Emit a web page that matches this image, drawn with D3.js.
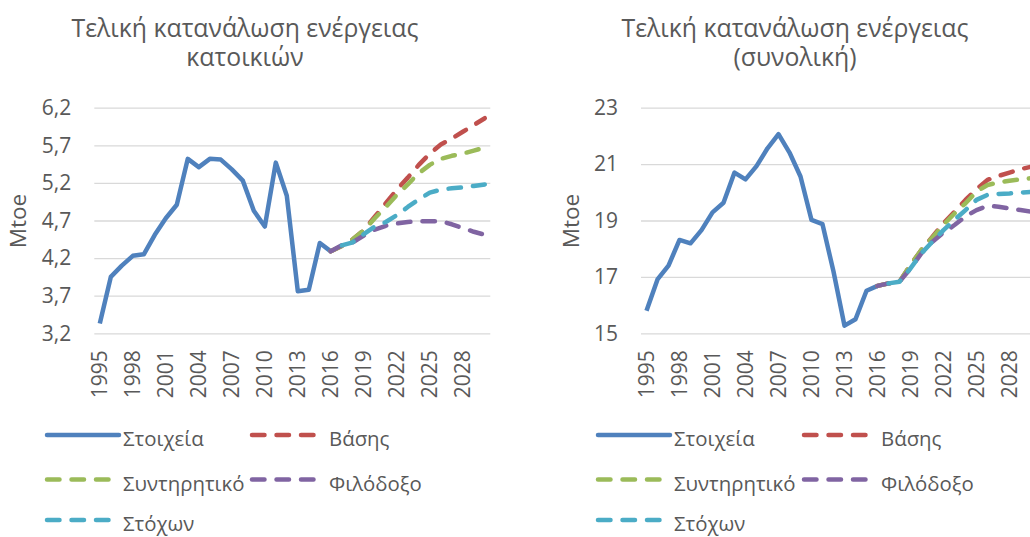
<!DOCTYPE html>
<html><head><meta charset="utf-8">
<script src="https://cdn.jsdelivr.net/npm/d3@7"></script>
<style>
html,body{margin:0;padding:0;background:#fff;overflow:hidden}
svg{display:block}
text{font-family:"Open Sans",sans-serif;fill:#595959}
</style></head>
<body>
<svg id="c" width="1030" height="537"></svg>
<script>
const years = [1995,1996,1997,1998,1999,2000,2001,2002,2003,2004,2005,2006,2007,2008,2009,2010,2011,2012,2013,2014,2015,2016,2017,2018,2019,2020,2021,2022,2023,2024,2025,2026,2027,2028,2029,2030];
const tickYears = [1995,1998,2001,2004,2007,2010,2013,2016,2019,2022,2025,2028];
const seriesNames = ["Στοιχεία","Βάσης","Συντηρητικό","Φιλόδοξο","Στόχων"];
const seriesColors = ["#4F81BD","#C0504D","#9BBB59","#8064A2","#4BACC6"];

// Left panel: households
const titleL = ["Τελική κατανάλωση ενέργειας","κατοικιών"];
const yTicksL = [3.2,3.7,4.2,4.7,5.2,5.7,6.2];
const histL = [3.33,3.95,4.10,4.23,4.25,4.51,4.73,4.91,5.52,5.41,5.52,5.51,5.38,5.23,4.83,4.62,5.47,5.03,3.76,3.78,4.40,4.29]; // 1995-2016
const baseL = [4.29,4.36,4.45,4.57,4.75,4.93,5.11,5.27,5.44,5.59,5.71,5.79,5.88,5.97,6.06]; // 2016-2030
const consL = [4.29,4.36,4.45,4.57,4.73,4.88,5.04,5.18,5.33,5.44,5.52,5.56,5.59,5.63,5.67]; // 2016-2030
const ambL  = [4.29,4.37,4.41,4.50,4.58,4.63,4.66,4.68,4.69,4.69,4.69,4.65,4.60,4.55,4.51]; // 2016-2030
const targL = [4.37,4.41,4.52,4.62,4.68,4.77,4.88,4.98,5.07,5.11,5.13,5.14,5.16,5.18]; // 2017-2030

// Right panel: total
const titleR = ["Τελική κατανάλωση ενέργειας","(συνολική)"];
const yTicksR = [15,17,19,21,23];
const histR = [15.80,16.91,17.40,18.31,18.19,18.66,19.29,19.63,20.70,20.46,20.93,21.56,22.06,21.41,20.56,19.02,18.87,17.19,15.27,15.50,16.51,16.68]; // 1995-2016
const baseR = [16.68,16.77,16.83,17.42,17.96,18.43,18.90,19.31,19.73,20.11,20.44,20.58,20.70,20.82,20.91]; // 2016-2030
const consR = [16.68,16.77,16.83,17.42,17.96,18.40,18.85,19.25,19.61,20.02,20.26,20.35,20.41,20.46,20.50]; // 2016-2030
const ambR  = [16.68,16.77,16.83,17.30,17.84,18.25,18.57,18.84,19.14,19.37,19.52,19.49,19.43,19.37,19.31]; // 2016-2030
const targR = [16.77,16.83,17.30,17.84,18.25,18.66,19.02,19.37,19.73,19.91,19.94,19.96,19.99,20.01]; // 2017-2030

const svg = d3.select("#c");

function panel(o){
  const g = svg.append("g");
  const x = d3.scaleBand().domain(years).range([o.x0, o.x0+396]);
  const cx = yr => x(yr) + x.bandwidth()/2;
  const y = d3.scaleLinear().domain(o.domain).range([333.3,107.7]);

  // title (one text, two lines)
  const t = g.append("text").attr("text-anchor","middle").style("font-size","24.8px");
  t.append("tspan").attr("x",o.tx).attr("y",36.5).text(o.title[0]);
  t.append("tspan").attr("x",o.tx).attr("y",66).text(o.title[1]);

  // grid
  const grid = g.append("g").attr("transform",`translate(${o.x0},0)`)
    .call(d3.axisLeft(y).tickValues(o.ticks).tickSize(-396).tickFormat(""));
  grid.select(".domain").remove();
  grid.selectAll("line").attr("stroke","#d9d9d9").attr("stroke-width",1.3);

  // y labels
  const ya = g.append("g").attr("transform",`translate(${o.x0-23},0)`)
    .call(d3.axisLeft(y).tickValues(o.ticks).tickSize(0).tickPadding(0)
      .tickFormat(d => d3.format(o.fmt)(d).replace(".",",")));
  ya.select(".domain").remove();
  ya.selectAll("text").attr("fill","#595959").style("font-size","21px")
    .style("font-family","'Open Sans',sans-serif");

  // x labels
  const xa = g.append("g").attr("transform","translate(0,333.3)")
    .call(d3.axisBottom(x).tickValues(tickYears).tickSize(0).tickPadding(0));
  xa.select(".domain").remove();
  xa.selectAll("text").attr("fill","#595959").style("font-size","21px")
    .style("font-family","'Open Sans',sans-serif")
    .attr("text-anchor","end").attr("transform","rotate(-90)")
    .attr("x",-17).attr("y",0).attr("dy","0.35em");

  // axis title
  g.append("text").attr("transform",`translate(${o.mx},221) rotate(-90)`)
    .attr("text-anchor","middle").attr("dy","0.35em").style("font-size","22.5px").text("Mtoe");

  const line = d3.line().x(d=>cx(d[0])).y(d=>y(d[1]));
  const mk = (arr,start) => arr.map((v,i)=>[start+i,v]);
  const sets = [mk(o.hist,1995), mk(o.base,2016), mk(o.cons,2016), mk(o.amb,2016), mk(o.targ,2017)];
  const lg = g.append("g");
  sets.forEach((s,i)=>{
    lg.append("path").attr("d",line(s)).attr("fill","none")
      .attr("stroke",seriesColors[i]).attr("stroke-width",4.5)
      .attr("stroke-linejoin","round")
      .attr("stroke-linecap", i===0 ? "butt" : "round")
      .attr("stroke-dasharray", i===0 ? null : "12.5,12");
  });

  // legend
  const pos = [[0,0],[1,0],[0,1],[1,1],[0,2]];
  const rowBase = [446,490.5,531];
  seriesNames.forEach((n,i)=>{
    const lx = o.lx[pos[i][0]], base = rowBase[pos[i][1]], ly = base - 11;
    g.append("line").attr("x1",lx).attr("x2",lx+72).attr("y1",ly).attr("y2",ly)
      .attr("stroke",seriesColors[i]).attr("stroke-width",4.5)
      .attr("stroke-linecap","round")
      .attr("stroke-dasharray", i===0 ? null : "12.5,12");
    g.append("text").attr("x",lx + (pos[i][0]===0?76:77)).attr("y",base)
      .style("font-size","20.4px").text(n);
  });
}

panel({x0:94.3, domain:[3.2,6.2], ticks:yTicksL, fmt:".1f", title:titleL, tx:245, mx:18,
  hist:histL, base:baseL, cons:consL, amb:ambL, targ:targL, lx:[47,252]});
panel({x0:641, domain:[15,23], ticks:yTicksR, fmt:"d", title:titleR, tx:795, mx:571,
  hist:histR, base:baseR, cons:consR, amb:ambR, targ:targR, lx:[598,804]});
</script>
</body></html>
